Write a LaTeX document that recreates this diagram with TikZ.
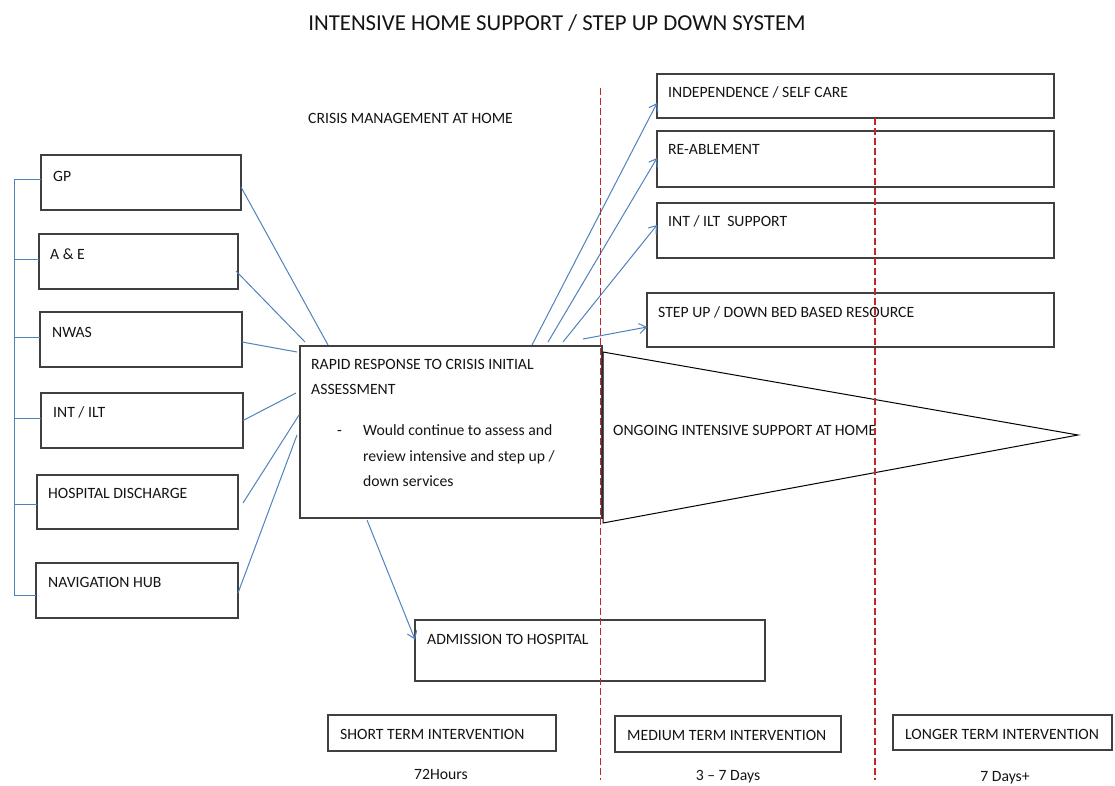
\documentclass[tikz,border=0pt]{standalone}
\usepackage{fontspec}
\setmainfont{Carlito}
\usetikzlibrary{calc,arrows.meta}
\definecolor{lineblue}{RGB}{79,129,189}
\definecolor{dred}{RGB}{190,40,40}
\definecolor{boxgray}{RGB}{64,64,64}
\definecolor{txt}{RGB}{20,20,20}
\begin{document}
\begin{tikzpicture}[x=1pt,y=-1pt,
  box/.style={draw=boxgray, line width=1.2pt, anchor=north west, inner sep=0, outer sep=0},
  lbl/.style={anchor=base west, inner sep=0, text=txt, font=\fontsize{15.7}{18}\selectfont},
  clbl/.style={lbl, anchor=base},
  conn/.style={draw=lineblue, line width=1pt},
  arr/.style={conn, -{Straight Barb[length=7pt,width=10pt]}},
  dashline/.style={draw=dred, line width=1pt, dash pattern=on 7pt off 3pt},
]
\useasboundingbox (0,0) rectangle (1115,785);

% title
\node[anchor=base, inner sep=0, text=txt, font=\fontsize{22.8}{26}\selectfont] (title) at (557,30) {INTENSIVE HOME SUPPORT / STEP UP DOWN SYSTEM};
\node[lbl] (crisis) at (308,123) {CRISIS MANAGEMENT AT HOME};

% left boxes
\node[box, minimum width=200pt, minimum height=55pt] (gp) at (41,155) {};
\node[box, minimum width=199pt, minimum height=55pt] (ae) at (39,234) {};
\node[box, minimum width=202pt, minimum height=55pt] (nwas) at (40,312) {};
\node[box, minimum width=202pt, minimum height=55pt] (int) at (41,393) {};
\node[box, minimum width=201pt, minimum height=54pt] (hd) at (37,475) {};
\node[box, minimum width=202pt, minimum height=55pt] (nav) at (36,563) {};
\node[lbl] (gpt) at (53,181) {GP};
\node[lbl] (aet) at (50,259) {A \& E};
\node[lbl] (nwast) at (52,337) {NWAS};
\node[lbl] (intt) at (53,417) {INT / ILT};
\node[lbl] (hdt) at (48,498) {HOSPITAL DISCHARGE};
\node[lbl] (navt) at (48,587) {NAVIGATION HUB};

% central box
\node[box, minimum width=302pt, minimum height=172pt] (rr) at (300,346) {};
\node[lbl] (rr1) at (311,369) {RAPID RESPONSE TO CRISIS INITIAL};
\node[lbl] (rr2) at (311,394) {ASSESSMENT};
\node[lbl] (rrd) at (337,435) {-};
\node[lbl] (rr3) at (363,435) {Would continue to assess and};
\node[lbl] (rr4) at (363,461) {review intensive and step up /};
\node[lbl] (rr5) at (363,486) {down services};

% right boxes
\node[box, minimum width=397pt, minimum height=44pt] (ind) at (657,74) {};
\node[box, minimum width=397pt, minimum height=56pt] (rea) at (657,131) {};
\node[box, minimum width=397pt, minimum height=55pt] (ints) at (657,203) {};
\node[box, minimum width=407pt, minimum height=54pt] (step) at (647,293) {};
\node[lbl] (indt) at (668,97) {INDEPENDENCE / SELF CARE};
\node[lbl] (reat) at (668,154) {RE-ABLEMENT};
\node[lbl] (intst) at (668,226) {INT / ILT\ \ SUPPORT};
\node[lbl] (stept) at (658,317) {STEP UP / DOWN BED BASED RESOURCE};

% admission and bottom boxes
\node[box, minimum width=350pt, minimum height=61pt] (adm) at (415,620) {};
\node[lbl] (admt) at (427,644) {ADMISSION TO HOSPITAL};
\node[box, minimum width=228pt, minimum height=36pt] (short) at (328,715) {};
\node[box, minimum width=226pt, minimum height=36pt] (med) at (615,716) {};
\node[box, minimum width=219pt, minimum height=35pt] (long) at (893,715) {};
\node[lbl] (shortt) at (340,739) {SHORT TERM INTERVENTION};
\node[lbl] (medt) at (627,740) {MEDIUM TERM INTERVENTION};
\node[lbl] (longt) at (905,739) {LONGER TERM INTERVENTION};
\node[clbl] (h72) at (441,779) {72Hours};
\node[clbl] (d37) at (728,780) {3 – 7 Days};
\node[clbl] (d7) at (1005,781) {7 Days+};

% triangle
\coordinate (tt) at (603,352);
\coordinate (tip) at (1078,435);
\coordinate (tb) at (603,523);
\draw[black, line width=1pt, line join=miter] (tt) -- (tip) -- (tb) -- cycle;
\node[lbl] (ongo) at (613,435) {ONGOING INTENSIVE SUPPORT AT HOME};

% bracket
\coordinate (bt) at ([xshift=-27pt,yshift=3.5pt]gp.west);
\draw[conn] ([yshift=3.5pt]gp.west) -- (bt) |- ([yshift=-4.5pt]nav.west);
\draw[conn] ([yshift=2.5pt]ae.west) -- ([yshift=2.5pt]ae.west -| bt);
\draw[conn] ([yshift=2.5pt]nwas.west) -- ([yshift=2.5pt]nwas.west -| bt);
\draw[conn] ([yshift=2.5pt]int.west) -- ([yshift=2.5pt]int.west -| bt);
\draw[conn] ([yshift=-2pt]hd.west) -- ([yshift=-2pt]hd.west -| bt);

% connectors into central box
\draw[conn] ([yshift=-4.5pt]gp.east) -- ([xshift=28pt,yshift=1pt]rr.north west);
\draw[conn] ([xshift=-2pt,yshift=-9.5pt]ae.east) -- ([xshift=5pt,yshift=4pt]rr.north west);
\draw[conn] ([yshift=-2.5pt]nwas.east) -- ([xshift=-3pt,yshift=-6pt]rr.north west);
\draw[conn] (int.east) -- ([xshift=-4pt,yshift=-47pt]rr.north west);
\draw[conn] ([xshift=5pt,yshift=-1pt]hd.east) -- ([xshift=-1pt,yshift=-69pt]rr.north west);
\draw[conn] ([yshift=-2.5pt]nav.east) -- ([xshift=-3pt,yshift=-89pt]rr.north west);

% arrows out
\draw[arr] ([xshift=81pt,yshift=1pt]rr.north) -- ([yshift=-7pt]ind.west);
\draw[arr] ([xshift=97pt,yshift=4pt]rr.north) -- ([yshift=1pt]rea.west);
\draw[arr] ([xshift=112pt,yshift=4pt]rr.north) -- ([yshift=5.5pt]ints.west);
\draw[arr] ([xshift=132pt,yshift=7pt]rr.north) -- ([yshift=-7pt]step.west);
\draw[arr] ([xshift=-84pt,yshift=-2pt]rr.south) -- ([yshift=11pt]adm.west);

% dashed time dividers
\coordinate (d1t) at (600,88);
\coordinate (d1b) at (600,780);
\coordinate (d2t) at (875,118);
\coordinate (d2b) at (875,780);
\draw[dashline] (d1t) -- (d1b);
\draw[dashline, line width=1.2pt] (d2t) -- (d2b);
\end{tikzpicture}
\end{document}
